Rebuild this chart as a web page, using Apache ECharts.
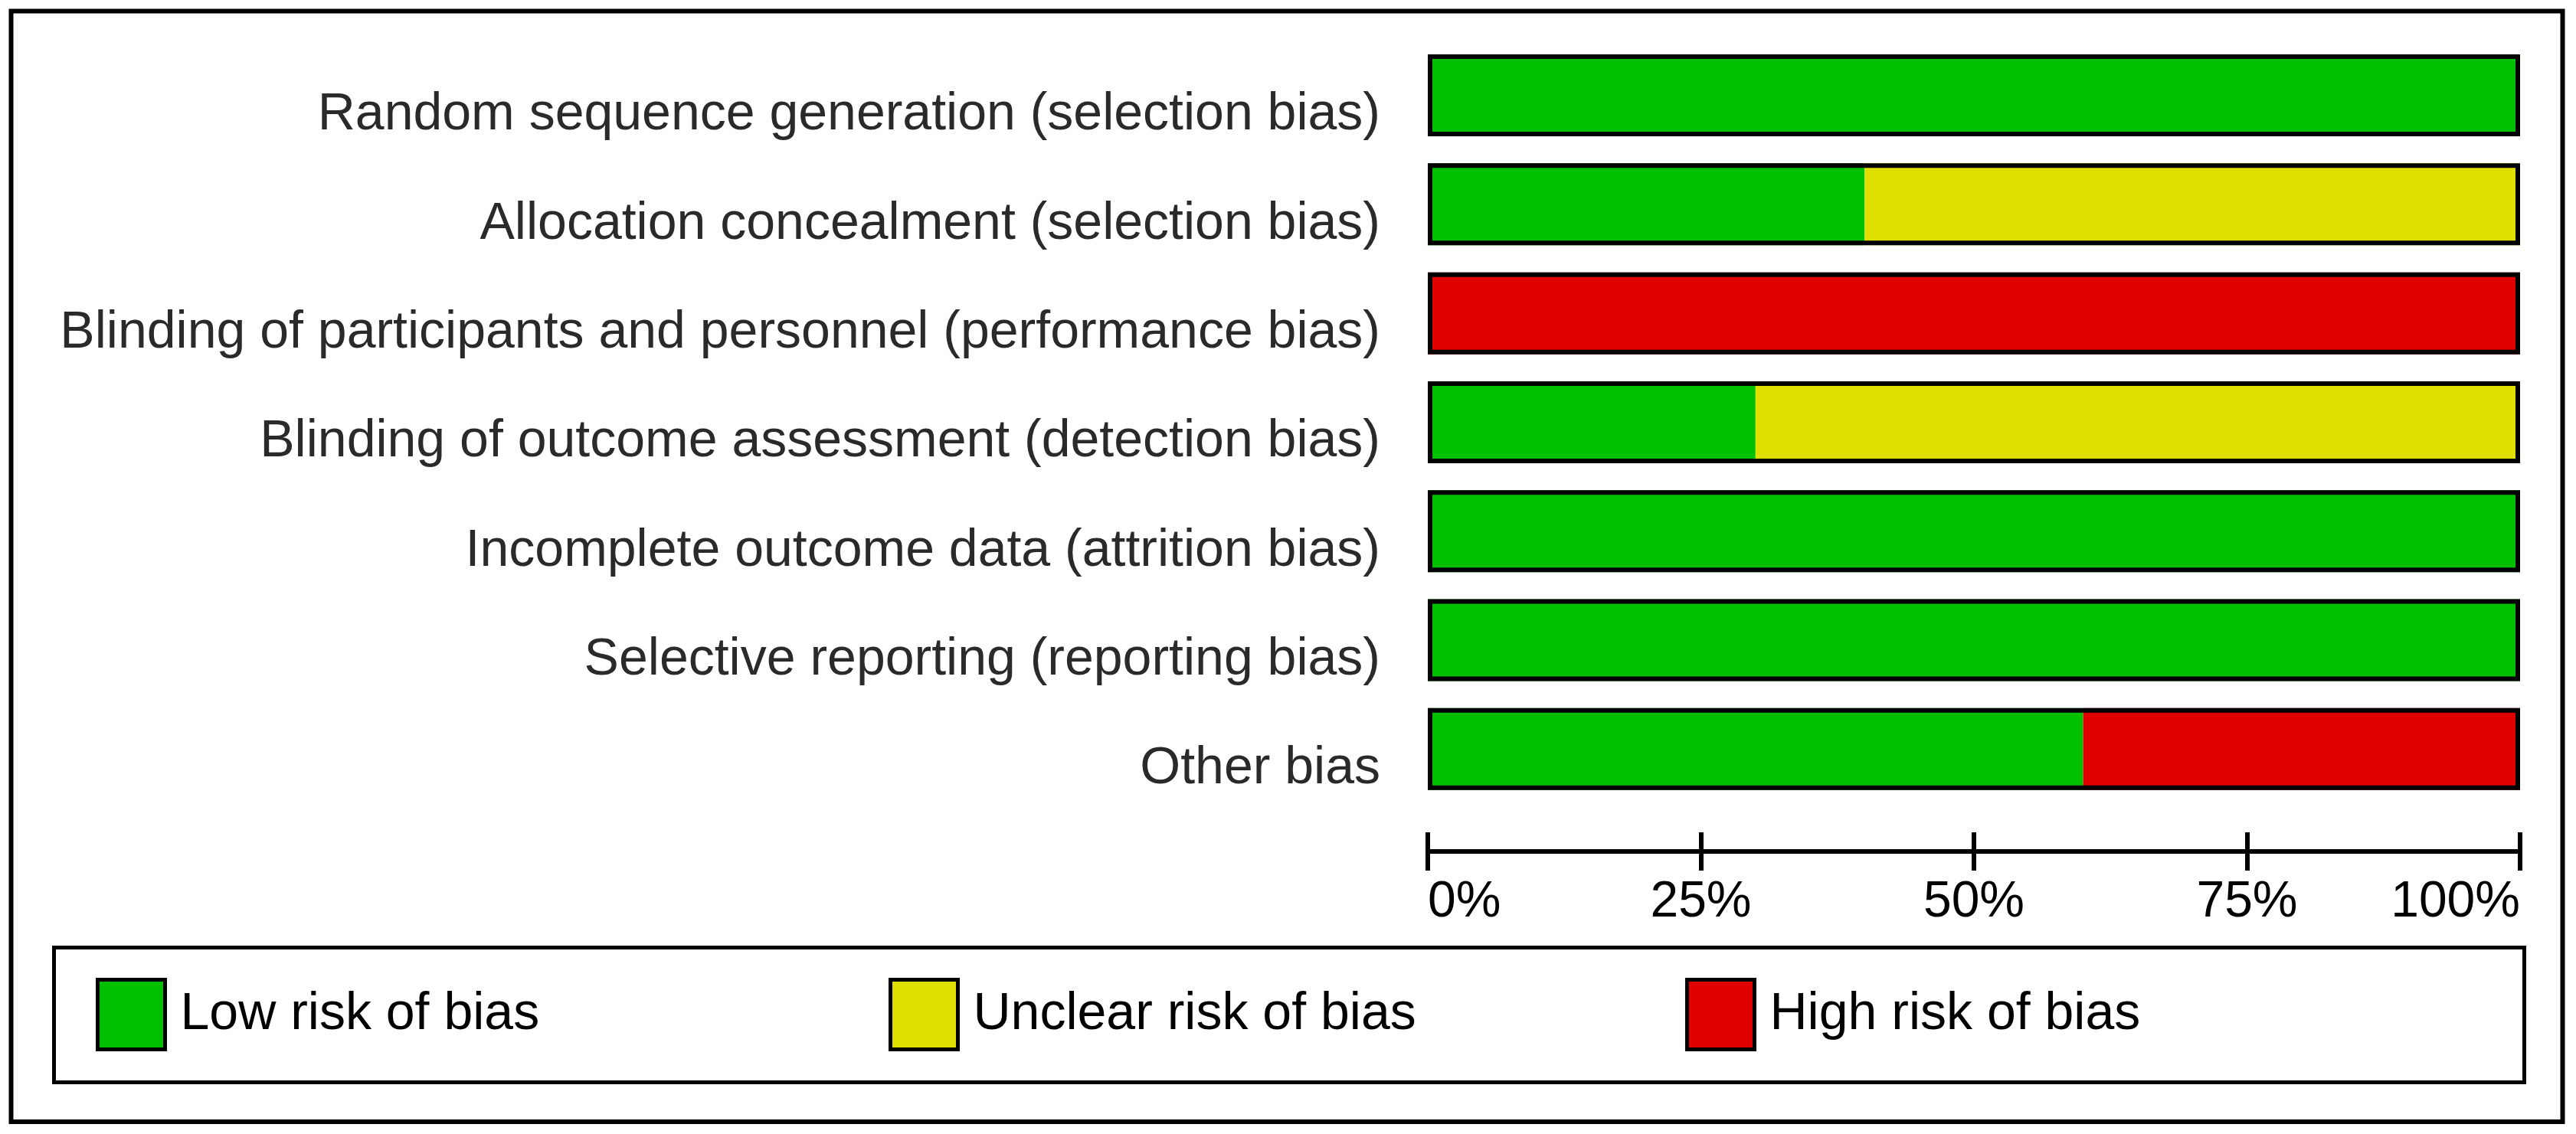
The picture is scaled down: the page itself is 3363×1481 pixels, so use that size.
<!DOCTYPE html>
<html>
<head>
<meta charset="utf-8">
<script src="https://cdn.jsdelivr.net/npm/echarts@6/dist/echarts.min.js"></script>
<style>
html,body{margin:0;padding:0;background:#fff;}
#chart{width:3363px;height:1481px;}
</style>
</head>
<body>
<div id="chart"></div>
<script>
const categories = [
  'Random sequence generation (selection bias)',
  'Allocation concealment (selection bias)',
  'Blinding of participants and personnel (performance bias)',
  'Blinding of outcome assessment (detection bias)',
  'Incomplete outcome data (attrition bias)',
  'Selective reporting (reporting bias)',
  'Other bias'
];
const lowRisk     = [100, 40, 0, 30, 100, 100, 60];
const unclearRisk = [0, 60, 0, 70, 0, 0, 0];
const highRisk    = [0, 0, 100, 0, 0, 0, 40];
const seriesNames = ['Low risk of bias', 'Unclear risk of bias', 'High risk of bias'];
const seriesColors = ['#00C000', '#E0E000', '#E00000'];
const tickLabels = ['0%', '25%', '50%', '75%', '100%'];

const totals = lowRisk.map((v, i) => v + unclearRisk[i] + highRisk[i]);
const FONT = '"Liberation Sans", Arial, sans-serif';

const chart = echarts.init(document.getElementById('chart'), null, {renderer: 'canvas'});

const barW = 107;
const mkSeries = (name, data, color) => ({
  name: name, type: 'bar', stack: 'risk', data: data,
  barWidth: barW, barGap: '-100%',
  itemStyle: {color: color, borderWidth: 0},
  emphasis: {disabled: true},
  z: 2
});

const legendPos = [125, 1160, 2200];
const legends = seriesNames.map((n, i) => ({
  data: [n],
  left: legendPos[i], top: 1277,
  orient: 'horizontal',
  padding: 0,
  itemWidth: 88, itemHeight: 91,
  selectedMode: false,
  icon: 'rect',
  itemStyle: {borderColor: '#000', borderWidth: 5},
  textStyle: {fontFamily: FONT, fontSize: 68, color: '#000', padding: [8, 0, 0, 15]}
}));

chart.setOption({
  animation: false,
  backgroundColor: '#fff',
  grid: {left: 1864, right: 73, top: 53.4, bottom: 1481 - 1049.5, containLabel: false},
  legend: legends,
  xAxis: [{
    type: 'value', min: 0, max: 100, interval: 25,
    position: 'bottom', offset: 62.5,
    axisLine: {show: true, lineStyle: {color: '#000', width: 6}},
    axisTick: {show: true, length: 25, lineStyle: {color: '#000', width: 6}},
    splitLine: {show: false},
    axisLabel: {
      show: true, margin: 34, fontFamily: FONT, fontSize: 66, color: '#000',
      alignMinLabel: 'left', alignMaxLabel: 'right',
      formatter: (v) => tickLabels[Math.round(v / 25)]
    }
  }, {
    type: 'value', min: 0, max: 100, interval: 25,
    position: 'bottom', offset: 62.5,
    axisLine: {show: false},
    axisTick: {show: true, inside: true, length: 25, lineStyle: {color: '#000', width: 6}},
    splitLine: {show: false},
    axisLabel: {show: false}
  }],
  yAxis: {
    type: 'category', data: categories, inverse: true,
    axisLine: {show: false}, axisTick: {show: false}, splitLine: {show: false},
    axisLabel: {
      margin: 62, fontFamily: FONT, fontSize: 68, color: '#2a2a2a',
      verticalAlign: 'top', lineHeight: 52
    }
  },
  series: [
    mkSeries(seriesNames[0], lowRisk, seriesColors[0]),
    mkSeries(seriesNames[1], unclearRisk, seriesColors[1]),
    mkSeries(seriesNames[2], highRisk, seriesColors[2]),
    {
      name: 'frame', type: 'bar', data: totals,
      barWidth: barW, barGap: '-100%',
      itemStyle: {color: 'rgba(0,0,0,0)', borderColor: '#000', borderWidth: 6},
      emphasis: {disabled: true},
      z: 5, silent: true
    }
  ],
  graphic: [
    {type: 'rect', shape: {x: 14.5, y: 14.5, width: 3331, height: 1450.5},
     style: {fill: null, stroke: '#000', lineWidth: 6}, silent: true, z: 0},
    {type: 'rect', shape: {x: 70.5, y: 1237.5, width: 3225, height: 176},
     style: {fill: null, stroke: '#000', lineWidth: 5}, silent: true, z: 0}
  ]
});
</script>
</body>
</html>
